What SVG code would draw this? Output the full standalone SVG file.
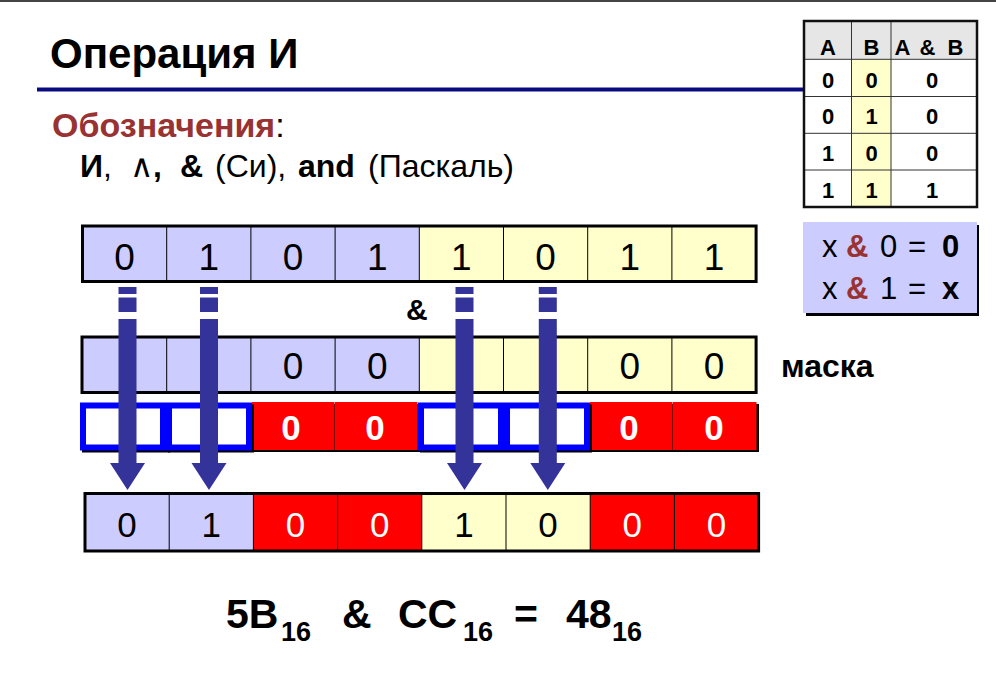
<svg xmlns="http://www.w3.org/2000/svg" width="996" height="698" viewBox="0 0 996 698">
<defs>
<style>
text{font-family:"Liberation Sans",Arial,sans-serif;fill:#000}
.b{font-weight:bold}
.cell{stroke:#000;stroke-width:1}
.lav{fill:#ccccff}
.yel{fill:#ffffcc}
.red{fill:#ff0000}
.outline{fill:none;stroke:#000;stroke-width:3}
.d{font-size:37px;text-anchor:middle}
.d4{font-size:35px;text-anchor:middle}
.w{fill:#fff}
.tt{font-size:22px;font-weight:bold;text-anchor:middle}
.tl{fill:none;stroke:#333;stroke-width:1}
.arr{fill:#333399}
.box{fill:#fff;stroke:#0000ff;stroke-width:6}
.brn{fill:#993333}
</style>
</defs>
<rect width="996" height="698" fill="#fff"/>
<rect x="0" y="0" width="996" height="2" fill="#444"/>

<g id="title">
<text class="b" x="50" y="68" font-size="42">Операция И</text>
<rect x="37" y="87.5" width="767" height="4" fill="#0a0a80"/>
</g>

<g id="notation">
<text x="52" y="137" font-size="34"><tspan class="b brn">Обозначения</tspan>:</text>
<text y="177" font-size="32"><tspan x="80" class="b">И</tspan>,<tspan x="130">∧</tspan><tspan class="b">,</tspan><tspan x="180" class="b">&amp;</tspan><tspan x="215">(Си),</tspan><tspan x="298" class="b">and</tspan><tspan x="368">(Паскаль)</tspan></text>
</g>

<g id="truth-table">
<rect x="804" y="21" width="173" height="38" fill="#e6e6e6"/>
<rect x="851.5" y="59" width="39.5" height="148" fill="#ffffcc"/>
<path class="tl" d="M851.5 21V207M891 21V207M804 59.3H977M804 96.5H977M804 133.3H977M804 170H977"/>
<rect x="804" y="21" width="173" height="186" fill="none" stroke="#111" stroke-width="2.5"/>
<text class="tt" x="828" y="55">A</text>
<text class="tt" x="871.5" y="55">B</text>
<text class="tt" x="902.5" y="55">A</text><text class="tt" x="927.5" y="55">&amp;</text><text class="tt" x="955.5" y="55">B</text>
<text class="tt" x="828" y="87.5">0</text><text class="tt" x="871.5" y="87.5">0</text><text class="tt" x="932" y="87.5">0</text>
<text class="tt" x="828" y="124">0</text><text class="tt" x="871.5" y="124">1</text><text class="tt" x="932" y="124">0</text>
<text class="tt" x="828" y="161">1</text><text class="tt" x="871.5" y="161">0</text><text class="tt" x="932" y="161">0</text>
<text class="tt" x="828" y="197.5">1</text><text class="tt" x="871.5" y="197.5">1</text><text class="tt" x="932" y="197.5">1</text>
</g>

<g id="rules">
<rect x="806" y="225" width="173" height="91" fill="#000"/>
<rect x="803" y="222" width="174" height="91" fill="#ccccff"/>
<g font-size="31">
<text x="822" y="257">x</text><text x="846" y="257" class="b brn">&amp;</text><text x="880" y="257">0</text><text x="908" y="257">=</text><text x="942" y="257" class="b">0</text>
<text x="822" y="299">x</text><text x="846" y="299" class="b brn">&amp;</text><text x="880" y="299">1</text><text x="908" y="299">=</text><text x="942" y="299" class="b">x</text>
</g>
</g>

<g id="row1">
<rect class="lav" x="82.5" y="226" width="336.8" height="55.5"/>
<rect class="yel" x="419.3" y="226" width="336.8" height="55.5"/>
<path class="cell" d="M166.7 226V281.5M250.9 226V281.5M335.1 226V281.5M419.3 226V281.5M503.5 226V281.5M587.7 226V281.5M671.9 226V281.5"/>
<rect class="outline" x="82.5" y="226" width="673.6" height="55.5"/>
<text class="d" x="124.6" y="269.5">0</text>
<text class="d" x="208.8" y="269.5">1</text>
<text class="d" x="293" y="269.5">0</text>
<text class="d" x="377.2" y="269.5">1</text>
<text class="d" x="461.4" y="269.5">1</text>
<text class="d" x="545.6" y="269.5">0</text>
<text class="d" x="629.8" y="269.5">1</text>
<text class="d" x="714" y="269.5">1</text>
</g>

<g id="and-sign">
<text class="b" x="406" y="320" font-size="30">&amp;</text>
</g>

<g id="row2-mask">
<rect class="lav" x="82" y="337" width="337.3" height="55.5"/>
<rect class="yel" x="419.3" y="337" width="336.8" height="55.5"/>
<path class="cell" d="M166.7 337V392.5M250.9 337V392.5M335.1 337V392.5M419.3 337V392.5M503.5 337V392.5M587.7 337V392.5M671.9 337V392.5"/>
<rect class="outline" x="82" y="337" width="674.1" height="55.5"/>
<text class="d" x="293" y="378.5">0</text>
<text class="d" x="377.2" y="378.5">0</text>
<text class="d" x="629.8" y="378.5">0</text>
<text class="d" x="714" y="378.5">0</text>
</g>

<g id="mask-label">
<text class="b" x="781" y="377" font-size="32">маска</text>
</g>

<g id="row3">
<rect x="254" y="404" width="83" height="48" fill="#000"/>
<rect x="337" y="404" width="83" height="48" fill="#000"/>
<rect x="592" y="404" width="83" height="48" fill="#000"/>
<rect x="675" y="404" width="84" height="48" fill="#000"/>
<rect class="red" x="252" y="402" width="82.5" height="48"/>
<rect class="red" x="335" y="402" width="82.5" height="48"/>
<rect class="red" x="590" y="402" width="82.5" height="48"/>
<rect class="red" x="673" y="402" width="83.5" height="48"/>
<rect x="82" y="404.5" width="88" height="48" fill="#000"/>
<rect x="168" y="404.5" width="86" height="48" fill="#000"/>
<rect x="420" y="404.5" width="86" height="48" fill="#000"/>
<rect x="506" y="404.5" width="86" height="48" fill="#000"/>
<rect class="box" x="83" y="405.5" width="80" height="42"/>
<rect class="box" x="169" y="405.5" width="80" height="42"/>
<rect class="box" x="421" y="405.5" width="80" height="42"/>
<rect class="box" x="507" y="405.5" width="80" height="42"/>
<text class="d4 b w" x="291" y="440">0</text>
<text class="d4 b w" x="375" y="440">0</text>
<text class="d4 b w" x="629" y="440">0</text>
<text class="d4 b w" x="714" y="440">0</text>
</g>

<g id="row4-result">
<rect class="lav" x="85" y="493.5" width="168.4" height="57.5"/>
<rect class="red" x="253.4" y="493.5" width="168.4" height="57.5"/>
<rect class="yel" x="421.8" y="493.5" width="168.4" height="57.5"/>
<rect class="red" x="590.2" y="493.5" width="168.4" height="57.5"/>
<path class="cell" d="M169.2 493.5V551M253.4 493.5V551M337.6 493.5V551M421.8 493.5V551M506 493.5V551M590.2 493.5V551M674.4 493.5V551"/>
<rect class="outline" x="85" y="493.5" width="673.6" height="57.5"/>
<text class="d4" x="127.1" y="537">0</text>
<text class="d4" x="211.3" y="537">1</text>
<text class="d4 w" x="295.5" y="537">0</text>
<text class="d4 w" x="379.7" y="537">0</text>
<text class="d4" x="463.9" y="537">1</text>
<text class="d4" x="548.1" y="537">0</text>
<text class="d4 w" x="632.3" y="537">0</text>
<text class="d4 w" x="716.5" y="537">0</text>
</g>

<g id="connectors">
<g class="arr">
<rect x="118.5" y="287" width="18" height="7"/><rect x="118.5" y="297.5" width="18" height="14.5"/><rect x="118.5" y="319" width="18" height="145"/><polygon points="110,463 145,463 127.5,490"/>
<rect x="200" y="287" width="18" height="7"/><rect x="200" y="297.5" width="18" height="14.5"/><rect x="200" y="319" width="18" height="145"/><polygon points="191.5,463 226.5,463 209,490"/>
<rect x="455.5" y="287" width="18" height="7"/><rect x="455.5" y="297.5" width="18" height="14.5"/><rect x="455.5" y="319" width="18" height="145"/><polygon points="447,463 482,463 464.5,490"/>
<rect x="538.8" y="287" width="18" height="7"/><rect x="538.8" y="297.5" width="18" height="14.5"/><rect x="538.8" y="319" width="18" height="145"/><polygon points="530.3,463 565.3,463 547.8,490"/>
</g>
</g>

<g id="formula">
<text class="b" x="226" y="628" font-size="41">5B</text>
<text class="b" x="281" y="641" font-size="27">16</text>
<text class="b" x="342" y="628" font-size="41">&amp;</text>
<text class="b" x="398" y="628" font-size="41">CC</text>
<text class="b" x="463" y="641" font-size="27">16</text>
<text class="b" x="514" y="628" font-size="41">=</text>
<text class="b" x="566" y="628" font-size="41">48</text>
<text class="b" x="612" y="641" font-size="27">16</text>
</g>
</svg>
